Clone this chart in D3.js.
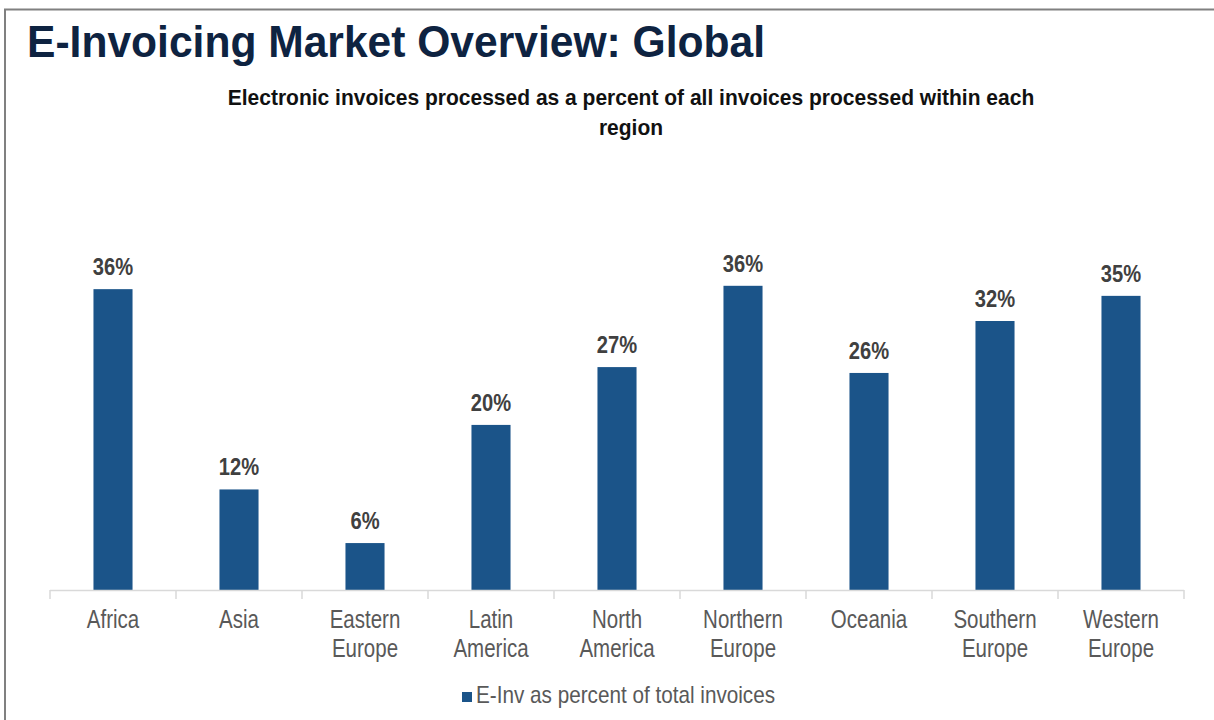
<!DOCTYPE html>
<html>
<head>
<meta charset="utf-8">
<script src="https://cdn.jsdelivr.net/npm/d3@7"></script>
<style>
  html, body { margin: 0; padding: 0; background: #fff; }
  svg text { font-family: "Liberation Sans Narrow", "Arial Narrow", "Liberation Sans", Arial, sans-serif; }
</style>
</head>
<body>
<div id="chart"></div>
<script>
// data
var regions = ["Africa", "Asia", "Eastern Europe", "Latin America", "North America",
               "Northern Europe", "Oceania", "Southern Europe", "Western Europe"];
var regionLines = [["Africa"], ["Asia"], ["Eastern", "Europe"], ["Latin", "America"], ["North", "America"],
                   ["Northern", "Europe"], ["Oceania"], ["Southern", "Europe"], ["Western", "Europe"]];
var einvShare = [35.9, 12.0, 5.6, 19.7, 26.6, 36.3, 25.9, 32.1, 35.1];
var seriesName = "E-Inv as percent of total invoices";

var width = 1214, height = 720;
var barColor = "#1b5489";

// no narrow font installed, so squeeze text horizontally around its anchor x
function squeeze(sel, f) {
    sel.each(function() {
        var t = d3.select(this);
        var cx = +t.attr("x");
        t.attr("transform", "translate(" + cx + ",0) scale(" + f + ",1) translate(" + (-cx) + ",0)");
    });
}

var svg = d3.select("#chart")
    .append("svg")
    .attr("width", width)
    .attr("height", height);

// frame lines (top and left)
svg.append("line").attr("x1", 4).attr("x2", width).attr("y1", 9.5).attr("y2", 9.5)
    .attr("stroke", "#808080").attr("stroke-width", 2);
svg.append("line").attr("x1", 5).attr("x2", 5).attr("y1", 9).attr("y2", height)
    .attr("stroke", "#808080").attr("stroke-width", 2);

// title
svg.append("text")
    .attr("x", 27)
    .attr("y", 57)
    .attr("textLength", 738)
    .attr("lengthAdjust", "spacingAndGlyphs")
    .style("font-size", "45px")
    .style("font-weight", "bold")
    .style("fill", "#0e2341")
    .text("E-Invoicing Market Overview: Global");

// subtitle
var sub = svg.append("text")
    .attr("x", 631)
    .attr("text-anchor", "middle")
    .style("font-size", "22px")
    .style("font-weight", "bold")
    .style("fill", "#111");
sub.append("tspan").attr("x", 631).attr("y", 105)
    .text("Electronic invoices processed as a percent of all invoices processed within each");
sub.append("tspan").attr("x", 631).attr("y", 135).text("region");
squeeze(sub, 0.955);

// scales
var baseY = 590;
var x = d3.scaleBand()
    .domain(regions)
    .range([50, 1184])
    .padding(0);

var y = d3.scaleLinear()
    .domain([0, 40])
    .range([baseY, baseY - 40 * 8.38]);

var barW = x.bandwidth() * 0.31;

// bars
svg.selectAll("rect.bar")
    .data(einvShare)
    .enter()
    .append("rect")
    .attr("class", "bar")
    .attr("x", function(d, i) { return x(regions[i]) + (x.bandwidth() - barW) / 2; })
    .attr("y", function(d) { return y(d); })
    .attr("width", barW)
    .attr("height", function(d) { return baseY - y(d); })
    .attr("fill", barColor);

// data labels
var vals = svg.selectAll("text.val")
    .data(einvShare)
    .enter()
    .append("text")
    .attr("class", "val")
    .attr("x", function(d, i) { return x(regions[i]) + x.bandwidth() / 2; })
    .attr("y", function(d) { return y(d) - 14; })
    .attr("text-anchor", "middle")
    .style("font-size", "24px")
    .style("font-weight", "bold")
    .style("fill", "#404040")
    .text(function(d) { return Math.round(d) + "%"; });
squeeze(vals, 0.84);

// x axis: line with ticks at band boundaries
var boundaries = regions.map(function(r) { return x(r); }).concat([x.range()[1]]);
svg.append("line")
    .attr("x1", x.range()[0]).attr("x2", x.range()[1])
    .attr("y1", baseY + 0.5).attr("y2", baseY + 0.5)
    .attr("stroke", "#d9d9d9").attr("stroke-width", 1.5);
svg.selectAll("line.tick")
    .data(boundaries)
    .enter()
    .append("line")
    .attr("class", "tick")
    .attr("x1", function(d) { return d; }).attr("x2", function(d) { return d; })
    .attr("y1", baseY).attr("y2", baseY + 9)
    .attr("stroke", "#d9d9d9").attr("stroke-width", 1.5);

// category labels
var cat = svg.selectAll("text.cat")
    .data(regionLines)
    .enter()
    .append("text")
    .attr("class", "cat")
    .attr("x", function(d, i) { return x(regions[i]) + x.bandwidth() / 2; })
    .attr("text-anchor", "middle")
    .style("font-size", "25px")
    .style("fill", "#595959");
cat.each(function(lines, i) {
    var t = d3.select(this);
    lines.forEach(function(line, k) {
        t.append("tspan")
            .attr("x", x(regions[i]) + x.bandwidth() / 2)
            .attr("y", 628 + k * 29)
            .text(line);
    });
});
squeeze(cat, 0.82);

// legend
svg.append("rect")
    .attr("x", 462).attr("y", 692)
    .attr("width", 10).attr("height", 10)
    .attr("fill", barColor);
var leg = svg.append("text")
    .attr("x", 476)
    .attr("y", 703)
    .style("font-size", "23px")
    .style("fill", "#595959")
    .text(seriesName);
squeeze(leg, 0.9);
</script>
</body>
</html>
